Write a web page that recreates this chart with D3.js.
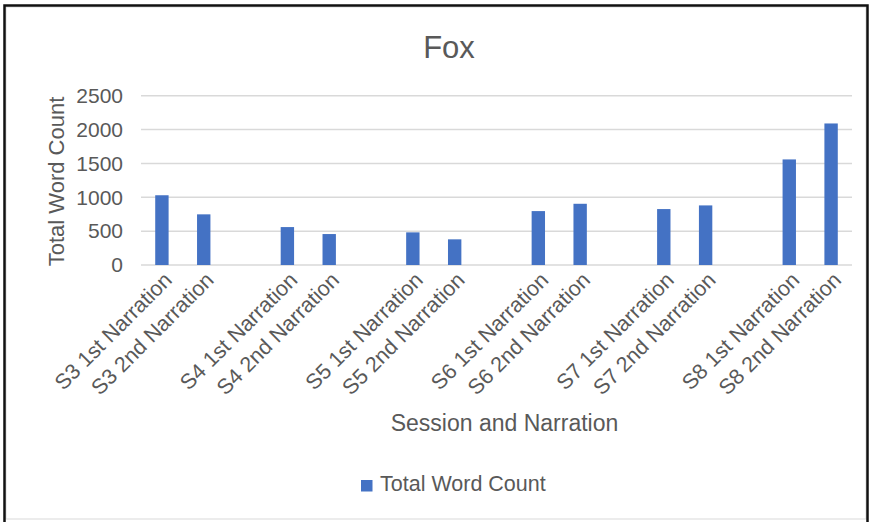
<!DOCTYPE html>
<html>
<head>
<meta charset="utf-8">
<script src="https://cdn.jsdelivr.net/npm/d3@7/dist/d3.min.js"></script>
<style>
  html, body { margin: 0; padding: 0; background: #fff; }
  svg { display: block; font-family: "Liberation Sans", Arial, Helvetica, sans-serif; }
</style>
</head>
<body>
<svg id="chart" width="872" height="522"></svg>
<script>
// Word counts per session narration; empty entries are spacer slots between sessions
const categories = [
  "S3 1st Narration", "S3 2nd Narration", "",
  "S4 1st Narration", "S4 2nd Narration", "",
  "S5 1st Narration", "S5 2nd Narration", "",
  "S6 1st Narration", "S6 2nd Narration", "",
  "S7 1st Narration", "S7 2nd Narration", "",
  "S8 1st Narration", "S8 2nd Narration"
];
const totalWordCount = [
  1030, 748, null,
  560, 457, null,
  482, 379, null,
  796, 904, null,
  826, 880, null,
  1559, 2090
];
const yTicks = [0, 500, 1000, 1500, 2000, 2500];
const chartTitle = "Fox";
const xTitle = "Session and Narration";
const yTitle = "Total Word Count";
const seriesName = "Total Word Count";

const svg = d3.select("#chart");
const textColor = "#595959";
const barColor = "#4472c4";

// frame
svg.append("rect").attr("x", 0).attr("y", 0).attr("width", 872).attr("height", 522).attr("fill", "#fff");
svg.append("rect").attr("x", 6).attr("y", 7).attr("width", 860).attr("height", 512)
  .attr("fill", "none").attr("stroke", "#d9d9d9").attr("stroke-width", 1);
svg.append("path").attr("d", "M4.5,522 V5.5 H867.5 V522")
  .attr("fill", "none").attr("stroke", "#111").attr("stroke-width", 2.5);

const plot = { left: 141, right: 852, top: 95.7, bottom: 265 };

const x = d3.scaleBand()
  .domain(d3.range(categories.length))
  .range([plot.left, plot.right])
  .paddingInner(0.68)
  .paddingOuter(0.34);

const y = d3.scaleLinear()
  .domain([0, 2500])
  .range([plot.bottom, plot.top]);

// gridlines
svg.append("g")
  .selectAll("line")
  .data(yTicks)
  .join("line")
  .attr("x1", plot.left).attr("x2", plot.right)
  .attr("y1", d => y(d)).attr("y2", d => y(d))
  .attr("stroke", "#d9d9d9").attr("stroke-width", 1.5);

// y axis labels
const yAxis = d3.axisLeft(y).tickValues(yTicks).tickSize(0).tickPadding(0).tickFormat(d3.format("d"));
const yg = svg.append("g").attr("transform", `translate(${123},0)`).call(yAxis);
yg.select(".domain").remove();
yg.selectAll("text")
  .attr("fill", textColor)
  .attr("font-size", 21)
  .attr("font-family", "Liberation Sans, Arial, sans-serif");

// bars
const data = categories.map((c, i) => ({ i, c, v: totalWordCount[i] })).filter(d => d.v != null);
svg.append("g")
  .selectAll("rect")
  .data(data)
  .join("rect")
  .attr("x", d => x(d.i))
  .attr("width", x.bandwidth())
  .attr("y", d => y(d.v))
  .attr("height", d => y(0) - y(d.v))
  .attr("fill", barColor);

// x axis labels (rotated)
const xAxis = d3.axisBottom(x).tickSize(0).tickPadding(0).tickFormat(i => categories[i]);
const xg = svg.append("g").attr("transform", `translate(0,${plot.bottom})`).call(xAxis);
xg.select(".domain").remove();
xg.selectAll(".tick text")
  .attr("fill", textColor)
  .attr("font-size", 21.5)
  .attr("font-family", "Liberation Sans, Arial, sans-serif")
  .attr("text-anchor", "end")
  .attr("dy", "0.35em")
  .attr("y", 0)
  .attr("transform", "translate(6,11) rotate(-45)");

// title
svg.append("text")
  .attr("x", 449).attr("y", 58)
  .attr("text-anchor", "middle")
  .attr("font-size", 31)
  .attr("fill", textColor)
  .text(chartTitle);

// axis titles
svg.append("text")
  .attr("x", 504.5).attr("y", 431)
  .attr("text-anchor", "middle")
  .attr("font-size", 23)
  .attr("fill", textColor)
  .text(xTitle);

svg.append("text")
  .attr("transform", `translate(${64},${181.5}) rotate(-90)`)
  .attr("text-anchor", "middle")
  .attr("font-size", 22)
  .attr("fill", textColor)
  .text(yTitle);

// legend
const legend = svg.append("g").attr("transform", "translate(361,480)");
legend.append("rect").attr("width", 11.5).attr("height", 11.5).attr("fill", barColor);
legend.append("text")
  .attr("x", 19).attr("y", 11)
  .attr("font-size", 21.5)
  .attr("fill", textColor)
  .text(seriesName);
</script>
</body>
</html>
